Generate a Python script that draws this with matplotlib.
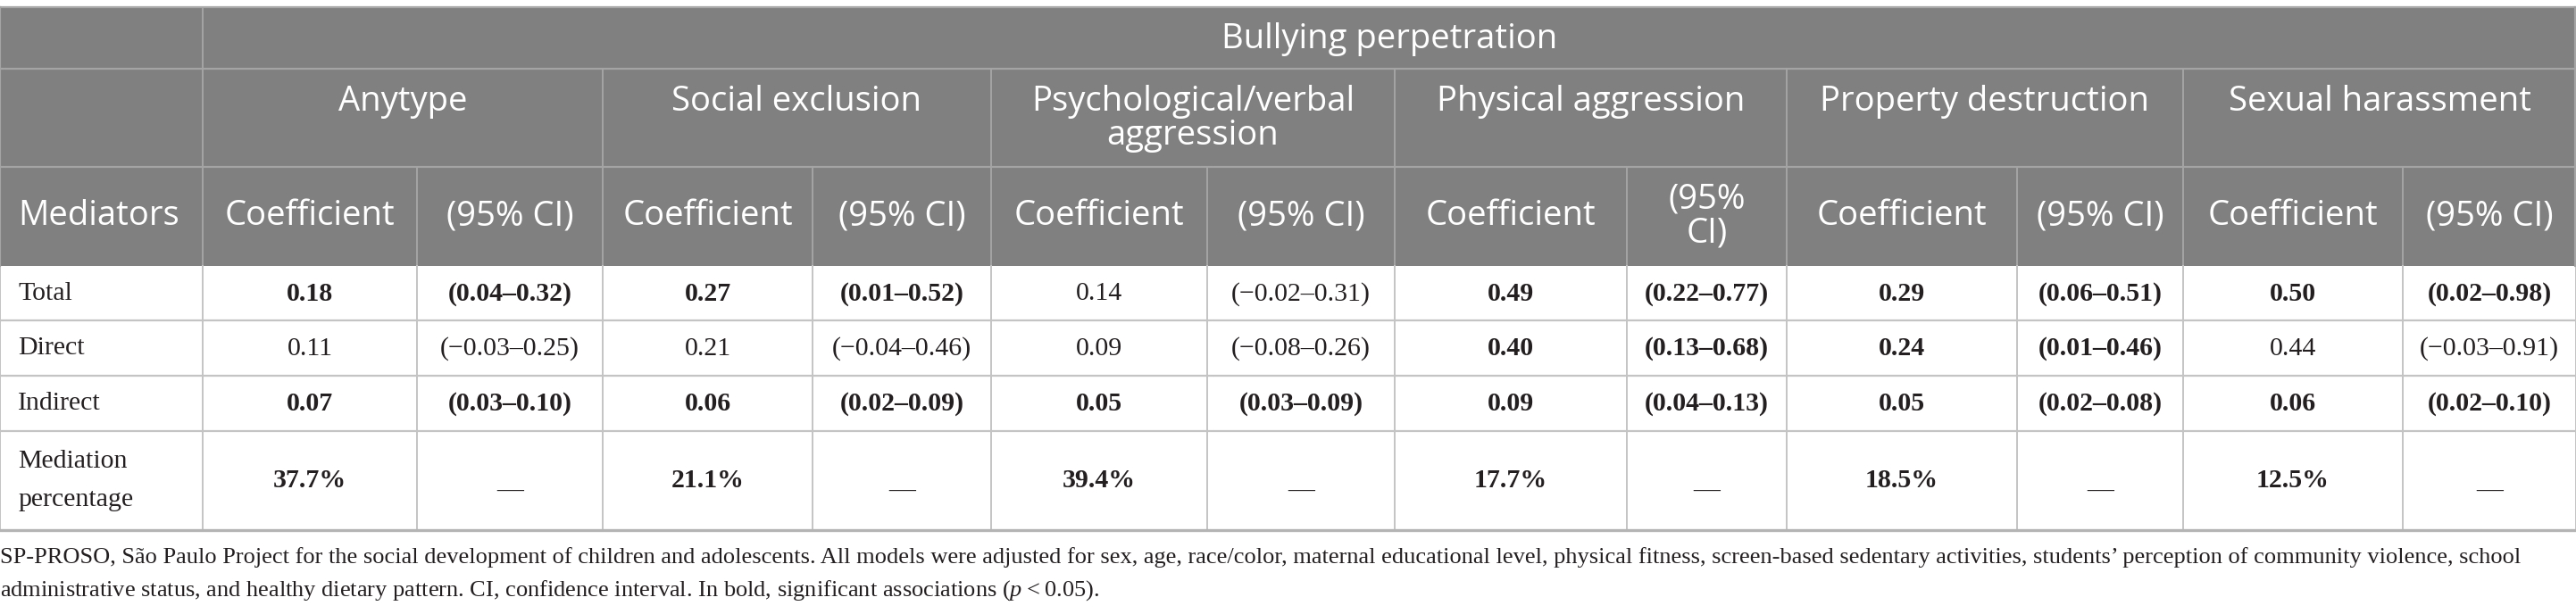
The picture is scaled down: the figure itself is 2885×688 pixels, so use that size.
import matplotlib
from matplotlib import pyplot as plt
from matplotlib.patches import Rectangle
matplotlib.use("Agg")

plt.rcParams['mathtext.fontset'] = 'custom'
plt.rcParams['mathtext.rm'] = 'Liberation Serif'
plt.rcParams['mathtext.it'] = 'Liberation Serif:italic'

# table content

top_title = "Bullying perpetration"
groups = ["Anytype", "Social exclusion", "Psychological/verbal\naggression",
          "Physical aggression", "Property destruction", "Sexual harassment"]
sub_cols = ["Coefficient", "(95% CI)"]
first_col = "Mediators"
row_names = ["Total", "Direct", "Indirect", "Mediation\npercentage"]

total_coef = [0.18, 0.27, 0.14, 0.49, 0.29, 0.50]
total_low = [0.04, 0.01, -0.02, 0.22, 0.06, 0.02]
total_high = [0.32, 0.52, 0.31, 0.77, 0.51, 0.98]
total_sig = [True, True, False, True, True, True]

direct_coef = [0.11, 0.21, 0.09, 0.40, 0.24, 0.44]
direct_low = [-0.03, -0.04, -0.08, 0.13, 0.01, -0.03]
direct_high = [0.25, 0.46, 0.26, 0.68, 0.46, 0.91]
direct_sig = [False, False, False, True, True, False]

indirect_coef = [0.07, 0.06, 0.05, 0.09, 0.05, 0.06]
indirect_low = [0.03, 0.02, 0.03, 0.04, 0.02, 0.02]
indirect_high = [0.10, 0.09, 0.09, 0.13, 0.08, 0.10]
indirect_sig = [True, True, True, True, True, True]

mediation_pct = [37.7, 21.1, 39.4, 17.7, 18.5, 12.5]

caption1 = ("SP-PROSO, São Paulo Project for the social development of children and adolescents. "
            "All models were adjusted for sex, age, race/color, maternal educational level, physical fitness, "
            "screen-based sedentary activities, students\u2019 perception of community violence, school")
caption2 = ("administrative status, and healthy dietary pattern. CI, confidence interval. "
            "In bold, significant associations ($\\it{p}$\u2009<\u20090.05).")

# layout (pixels)
col_edges = [0, 227, 467, 675, 910, 1110, 1352, 1562, 1822, 2001, 2259, 2445, 2691, 2885]
row_edges = [8, 77, 187, 298, 359, 421, 483, 594]

head_bg = '#808080'
head_line = '#a4a4a4'
body_line = '#c4c4c4'
ink = '#231f20'
sans = 'Open Sans'
serif = 'Liberation Serif'


def fmt(v):
    return ("\u2212" if v < 0 else "") + f"{abs(v):.2f}"


fig = plt.figure(figsize=(28.85, 6.88), dpi=100)
ax = fig.add_axes([0, 0, 1, 1])
ax.set_xlim(0, 2885)
ax.set_ylim(688, 0)
ax.axis('off')

W = col_edges[-1]
ax.add_patch(Rectangle((0, row_edges[0]), W, row_edges[3] - row_edges[0], color=head_bg, lw=0))

# header grid
for y in [row_edges[1], row_edges[2]]:
    ax.plot([0, W], [y, y], color=head_line, lw=1.6)
ax.plot([col_edges[1]] * 2, [row_edges[0], row_edges[3]], color=head_line, lw=1.4)
for g in range(1, 6):
    x = col_edges[1 + 2 * g]
    ax.plot([x, x], [row_edges[1], row_edges[3]], color=head_line, lw=1.4)
for g in range(6):
    x = col_edges[2 + 2 * g]
    ax.plot([x, x], [row_edges[2], row_edges[3]], color=head_line, lw=1.4)

# body grid
for x in col_edges:
    ax.plot([x, x], [row_edges[3], row_edges[-1]], color=body_line, lw=1.4)
for y in row_edges[4:-1]:
    ax.plot([0, W], [y, y], color=body_line, lw=1.6)
ax.plot([0, W], [row_edges[-1], row_edges[-1]], color='#b4b4b4', lw=2.4)
ax.plot([0, W], [row_edges[0], row_edges[0]], color='#a8a8a8', lw=1.6)
ax.plot([0, 0], [row_edges[0], row_edges[3]], color=head_line, lw=1.6)
ax.plot([W - 1, W - 1], [row_edges[0], row_edges[3]], color=head_line, lw=1.6)

# header text
hs = 27.5
ax.text((col_edges[1] + W) / 2, 44, top_title, ha='center', va='center',
        color='white', fontsize=hs, family=sans)
for g, name in enumerate(groups):
    xc = (col_edges[1 + 2 * g] + col_edges[3 + 2 * g]) / 2
    ax.text(xc, 95, name, ha='center', va='top', color='white', fontsize=hs,
            family=sans, linespacing=1.0, multialignment='center')
ax.text(20, (row_edges[2] + row_edges[3]) / 2, first_col, ha='left', va='center',
        color='white', fontsize=hs, family=sans)
for c in range(12):
    x0, x1 = col_edges[1 + c], col_edges[2 + c]
    label = sub_cols[c % 2]
    if x1 - x0 < 182:
        label = label.replace(" ", "\n")
    ax.text((x0 + x1) / 2, (row_edges[2] + row_edges[3]) / 2, label, ha='center',
            va='center', color='white', fontsize=hs, family=sans, linespacing=1.0)

# body text
bs = 21.5
table_rows = [
    (total_coef, total_low, total_high, total_sig),
    (direct_coef, direct_low, direct_high, direct_sig),
    (indirect_coef, indirect_low, indirect_high, indirect_sig),
]
for r, name in enumerate(row_names):
    yc = (row_edges[3 + r] + row_edges[4 + r]) / 2
    ax.text(20, yc, name, ha='left', va='center', color=ink, fontsize=bs,
            family=serif, linespacing=1.85)
for r, (coef, low, high, sig) in enumerate(table_rows):
    yc = (row_edges[3 + r] + row_edges[4 + r]) / 2 + 1
    for g in range(6):
        w = 'bold' if sig[g] else 'normal'
        xa = (col_edges[1 + 2 * g] + col_edges[2 + 2 * g]) / 2
        xb = (col_edges[2 + 2 * g] + col_edges[3 + 2 * g]) / 2
        ax.text(xa, yc, f"{coef[g]:.2f}", ha='center', va='center', color=ink,
                fontsize=bs, family=serif, fontweight=w)
        ax.text(xb, yc, f"({fmt(low[g])}\u2013{fmt(high[g])})", ha='center', va='center',
                color=ink, fontsize=bs, family=serif, fontweight=w)
yc = (row_edges[6] + row_edges[7]) / 2
for g in range(6):
    xa = (col_edges[1 + 2 * g] + col_edges[2 + 2 * g]) / 2
    xb = (col_edges[2 + 2 * g] + col_edges[3 + 2 * g]) / 2
    ax.text(xa, yc, f"{mediation_pct[g]:.1f}%", ha='center', va='center', color=ink,
            fontsize=bs, family=serif, fontweight='bold')
    ax.text(xb, yc + 12, "\u2014", ha='center', va='center', color=ink,
            fontsize=bs, family=serif)

# caption
ax.text(0, 625, caption1, ha='left', va='center', color=ink, fontsize=19, family=serif)
ax.text(0, 662, caption2, ha='left', va='center', color=ink, fontsize=19, family=serif)

plt.savefig("out.png", dpi=100)
